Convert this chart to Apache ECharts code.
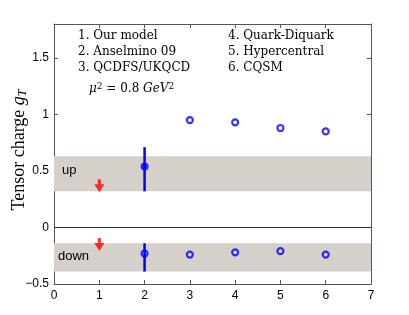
<!DOCTYPE html>
<html>
<head>
<meta charset="utf-8">
<script src="https://cdn.jsdelivr.net/npm/echarts@6/dist/echarts.min.js"></script>
<style>html,body{margin:0;padding:0;background:#fff;}#c{width:409px;height:315px;}</style>
</head>
<body>
<div id="c"></div>
<script>
const models = ['Our model', 'Anselmino 09', 'QCDFS/UKQCD', 'Quark-Diquark', 'Hypercentral', 'CQSM'];
const xPos = [1, 2, 3, 4, 5, 6];
const gUp = [0.37, 0.54, 0.95, 0.93, 0.88, 0.85];
const gDown = [-0.15, -0.23, -0.24, -0.22, -0.21, -0.24];
const errX = [2, 2];
const errLow = [0.32, -0.39];
const errHigh = [0.71, -0.14];
const upBand = [0.32, 0.63];
const downBand = [-0.39, -0.14];
const xTicks = [0, 1, 2, 3, 4, 5, 6, 7];
const yTicks = [-0.5, 0, 0.5, 1, 1.5];

const chart = echarts.init(document.getElementById('c'), null, {renderer: 'canvas'});
const blue = '#0000ff';
const frame = '#555';
const sans = 'Liberation Sans';
const serif = 'DejaVu Serif';

const arrowData = [[xPos[0], gUp[0]], [xPos[0], gDown[0]]];
const filledData = [[xPos[1], gUp[1]]];
const openData = [];
for (let i = 2; i < xPos.length; i++) openData.push([xPos[i], gUp[i]]);
for (let i = 1; i < xPos.length; i++) openData.push([xPos[i], gDown[i]]);
const errData = errX.map((x, i) => [x, errLow[i], errHigh[i]]);

const axisCommon = {
  axisLine: {show: true, onZero: false, lineStyle: {color: frame, width: 1}},
  axisTick: {show: true, inside: true, length: 4, lineStyle: {color: frame}},
  splitLine: {show: false}
};

function legendText(left, top, txt) {
  return {type: 'text', z: 100, left: left, top: top, style: {text: txt, fill: '#000', font: '12px "DejaVu Serif"'}};
}

chart.setOption({
  animation: false,
  grid: {left: 54, right: 38, top: 24, bottom: 31},
  xAxis: [
    Object.assign({type: 'value', min: xTicks[0], max: xTicks[xTicks.length - 1], interval: 1, position: 'bottom',
      axisLabel: {color: '#000', fontFamily: sans, fontSize: 12, margin: 6}}, axisCommon),
    Object.assign({type: 'value', min: xTicks[0], max: xTicks[xTicks.length - 1], interval: 1, position: 'top',
      axisLabel: {show: false}}, axisCommon)
  ],
  yAxis: [
    Object.assign({type: 'value', min: yTicks[0], max: 1.8, interval: 0.5, position: 'left',
      axisLabel: {color: '#000', fontFamily: sans, fontSize: 12, margin: 5, showMaxLabel: false,
        formatter: v => (yTicks.indexOf(v) >= 0 ? String(v).replace('-', '\u2212') : '')}}, axisCommon),
    Object.assign({type: 'value', min: yTicks[0], max: 1.8, interval: 0.5, position: 'right',
      axisLabel: {show: false}}, axisCommon)
  ],
  series: [
    {
      type: 'line', data: [], xAxisIndex: 0, yAxisIndex: 0, silent: true,
      markArea: {silent: true, itemStyle: {color: '#d5d1ca'},
        data: [[{yAxis: upBand[0]}, {yAxis: upBand[1]}], [{yAxis: downBand[0]}, {yAxis: downBand[1]}]]},
      markLine: {silent: true, symbol: ['none', 'none'], label: {show: false},
        lineStyle: {color: '#333', width: 1, type: 'solid'}, data: [{yAxis: 0}]}
    },
    {
      type: 'custom', xAxisIndex: 0, yAxisIndex: 0, data: errData, z: 3,
      renderItem: function (params, api) {
        const p1 = api.coord([api.value(0), api.value(1)]);
        const p2 = api.coord([api.value(0), api.value(2)]);
        return {type: 'line', shape: {x1: p1[0], y1: p1[1], x2: p2[0], y2: p2[1]},
          style: {stroke: blue, lineWidth: 2.5}};
      }
    },
    {
      type: 'scatter', data: arrowData, z: 4,
      symbol: 'path://M3.5,0 L6.5,0 L6.5,5 L10,5 L5,13 L0,5 L3.5,5 Z',
      symbolSize: [10, 13], itemStyle: {color: '#ff0000'}
    },
    {
      type: 'scatter', data: filledData, z: 5, symbol: 'circle', symbolSize: 8,
      itemStyle: {color: blue}
    },
    {
      type: 'scatter', data: openData, z: 5, symbol: 'circle', symbolSize: 6,
      itemStyle: {color: 'rgba(0,0,0,0)', borderColor: blue, borderWidth: 2.2}
    }
  ],
  graphic: [
    {type: 'text', z: 100, x: 19, y: 150, rotation: Math.PI / 2,
      style: {text: 'Tensor charge {g|g}{t|T}', fill: '#000', fontFamily: 'Liberation Serif', fontSize: 18,
        align: 'center', verticalAlign: 'middle',
        rich: {g: {fontFamily: 'Liberation Serif', fontStyle: 'italic', fontSize: 18},
               t: {fontFamily: 'Liberation Serif', fontStyle: 'italic', fontSize: 12, verticalAlign: 'bottom', padding: [8, 0, 0, 0]}}}},
    legendText(78, 30, '1. ' + models[0]),
    legendText(78, 46, '2. ' + models[1]),
    legendText(78, 62, '3. ' + models[2]),
    legendText(228, 30, '4. ' + models[3]),
    legendText(228, 46, '5. ' + models[4]),
    legendText(228, 62, '6. ' + models[5]),
    {type: 'text', z: 100, left: 89, top: 82,
      style: {text: '{i|\u03bc}{s|2} = 0.8 {i|GeV}{s|2}', fill: '#000', fontFamily: serif, fontSize: 12,
        rich: {i: {fontFamily: serif, fontStyle: 'italic', fontSize: 12},
               s: {fontFamily: serif, fontSize: 9, verticalAlign: 'top', padding: [0, 0, 5, 0]}}}},
    {type: 'text', z: 100, left: 62, top: 164, style: {text: 'up', fill: '#000', font: '13px "Liberation Sans"'}},
    {type: 'text', z: 100, left: 58, top: 250, style: {text: 'down', fill: '#000', font: '13px "Liberation Sans"'}}
  ]
});
</script>
</body>
</html>
